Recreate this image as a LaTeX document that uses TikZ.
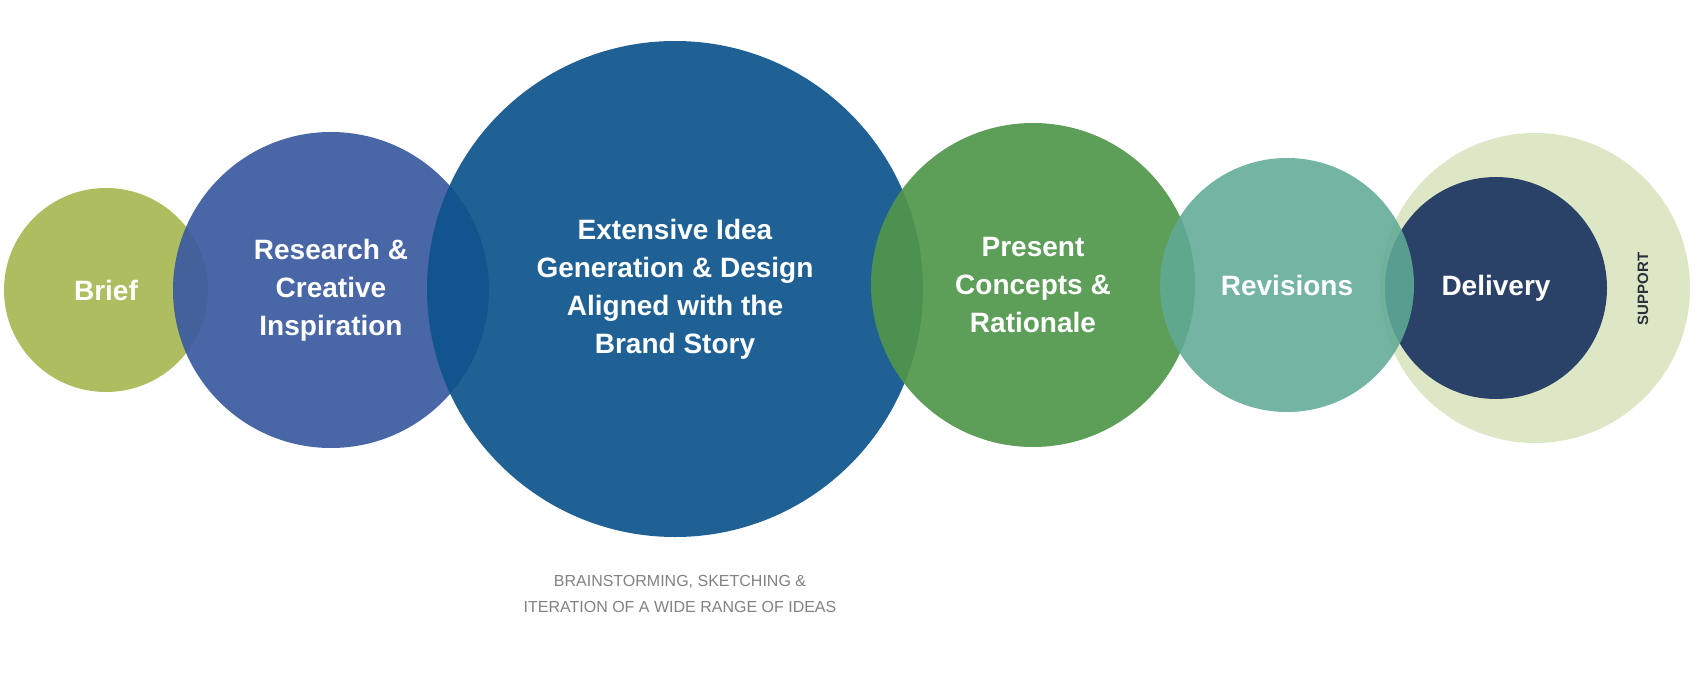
\documentclass[tikz,border=0pt]{standalone}
\usepackage{fontspec}
\setmainfont{Liberation Sans}
\begin{document}
\begin{tikzpicture}[x=1pt,y=-1pt,
  circ/.style={circle,inner sep=0pt,fill opacity=0.92,text opacity=1},
  lbl/.style={text=white,font=\fontsize{28}{38}\selectfont\bfseries,align=center}]
\useasboundingbox (0,0) rectangle (1698,680);
\fill[white] (0,0) rectangle (1698,680);
\node[circ,fill={rgb,255:red,168;green,184;blue,83},minimum size=204pt] (brief) at (106,290) {};
\node[circ,fill={rgb,255:red,58;green,90;blue,160},minimum size=316pt] (res) at (331,290) {};
\node[circ,fill={rgb,255:red,14;green,84;blue,140},minimum size=496pt] (ext) at (675,289) {};
\node[circ,fill={rgb,255:red,80;green,150;blue,75},minimum size=324pt] (pre) at (1033,285) {};
\node[circ,fill={rgb,255:red,222;green,231;blue,197},fill opacity=1,minimum size=310pt] (sup) at (1535,288) {};
\node[circ,fill={rgb,255:red,43;green,66;blue,104},fill opacity=1,minimum size=222pt] (del) at (1496,288) {};
\node[circ,fill={rgb,255:red,96;green,170;blue,150},fill opacity=0.88,minimum size=254pt] (rev) at (1287,285) {};
\node[lbl] at (brief) {Brief};
\node[lbl] at (res) {Research \&\\Creative\\Inspiration};
\node[lbl] at (ext) {Extensive Idea\\Generation \& Design\\Aligned with the\\Brand Story};
\node[lbl] at (pre) {Present\\Concepts \&\\Rationale};
\node[lbl] at (rev) {Revisions};
\node[lbl] at (del) {Delivery};
\node[rotate=90,font=\fontsize{15}{18}\selectfont\bfseries,text={rgb,255:red,40;green,50;blue,60}] (supt) at (1643,289) {SUPPORT};
\node[align=center,font=\fontsize{16}{26}\selectfont,text={rgb,255:red,130;green,130;blue,130}] (note) at (680,594) {BRAINSTORMING, SKETCHING \&\\ITERATION OF A WIDE RANGE OF IDEAS};
\end{tikzpicture}
\end{document}
